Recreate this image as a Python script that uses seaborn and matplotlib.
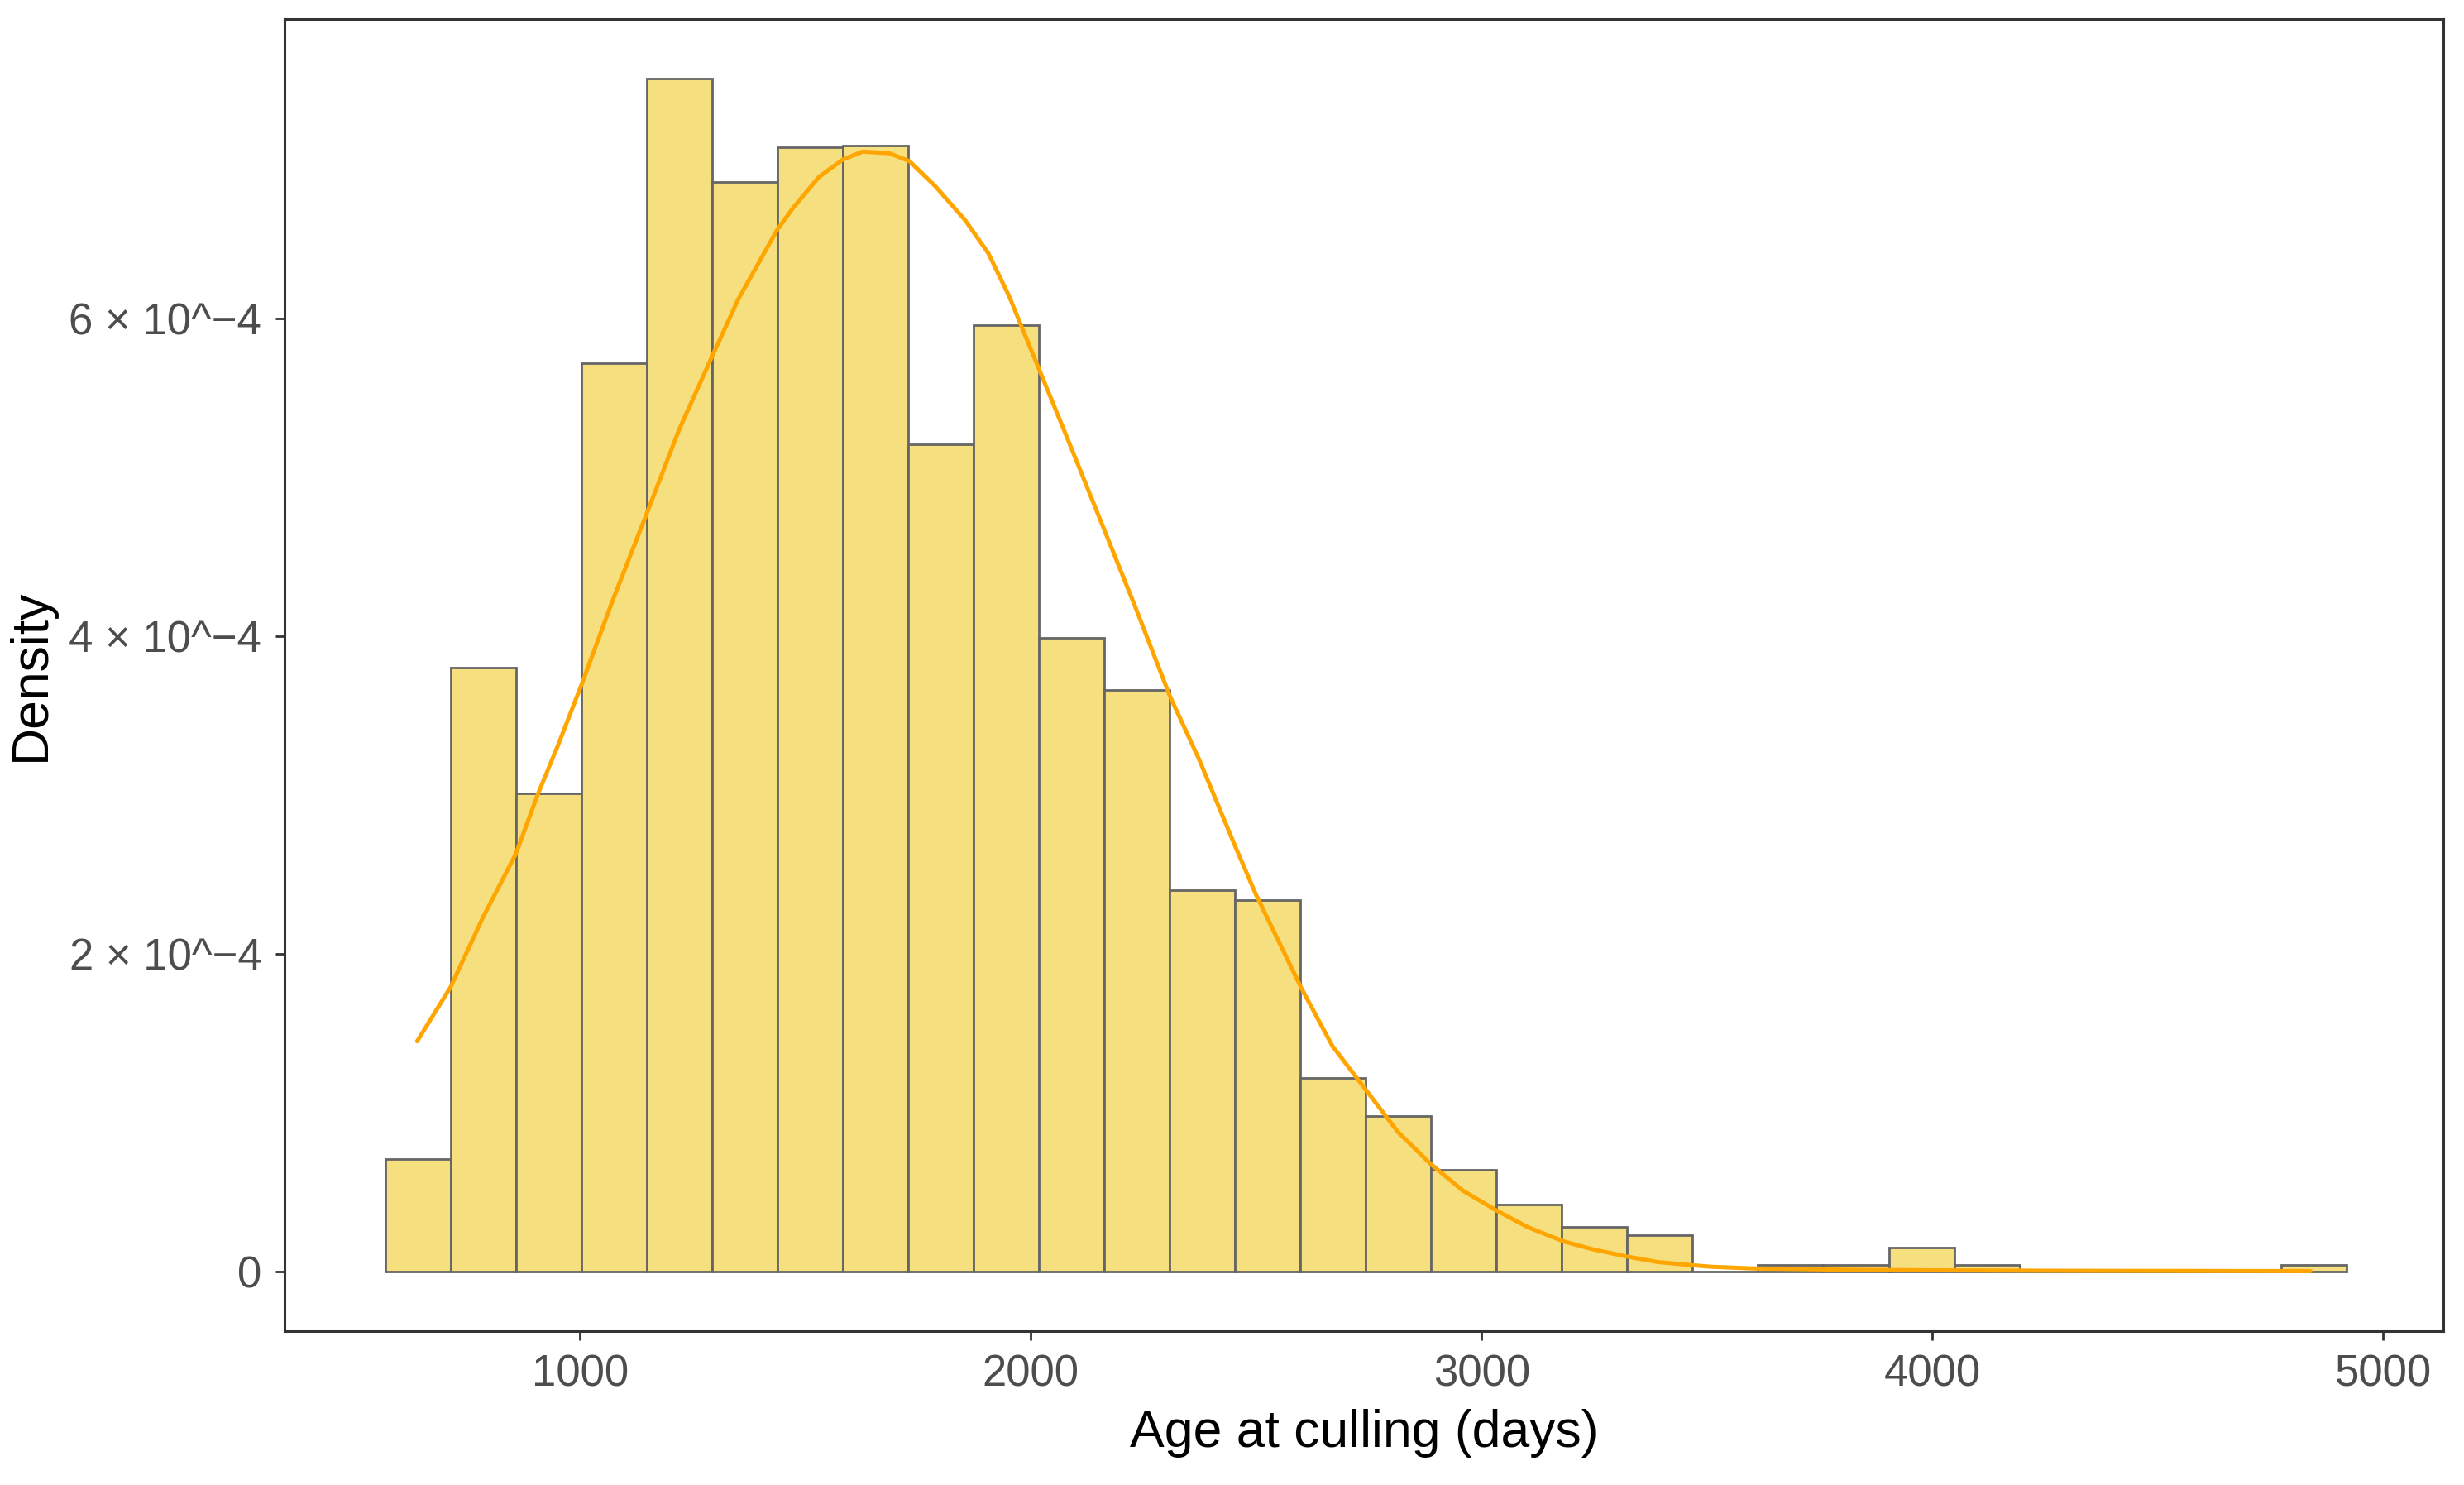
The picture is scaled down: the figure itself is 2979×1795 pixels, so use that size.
import numpy as np
import pandas as pd
import matplotlib
matplotlib.use("Agg")
import matplotlib.pyplot as plt
import seaborn as sns

# histogram: 30 bins starting at 568 days, each 145 days wide
bin_left = 568
bin_width = 145
# bar heights, in units of 1e-4
density = [0.71, 3.80, 3.01, 5.72, 7.51, 6.86, 7.08, 7.09, 5.21, 5.96,
           3.99, 3.66, 2.40, 2.34, 1.22, 0.98, 0.64, 0.42, 0.28, 0.23,
           0.00, 0.04, 0.04, 0.15, 0.04, 0.00, 0.00, 0.00, 0.00, 0.04]

# orange density curve, read point by point (density in units of 1e-4)
curve_days = [639, 713, 785, 858, 906, 951, 1003, 1072, 1148, 1220,
              1293, 1351, 1438, 1474, 1530, 1583, 1627, 1686, 1731, 1789,
              1854, 1906, 1952, 2017, 2082, 2163, 2231, 2309, 2374, 2453,
              2500, 2601, 2669, 2747, 2814, 2886, 2958, 3036, 3102, 3182,
              3247, 3322, 3391, 3467, 3512, 3600, 3800, 4000, 4300, 4600,
              4838]
curve_density = [1.45, 1.79, 2.23, 2.63, 3.00, 3.31, 3.69, 4.22, 4.77, 5.30,
                 5.76, 6.12, 6.56, 6.70, 6.89, 7.00, 7.05, 7.04, 6.99, 6.83,
                 6.62, 6.41, 6.14, 5.69, 5.24, 4.67, 4.19, 3.62, 3.22, 2.68,
                 2.37, 1.78, 1.42, 1.13, 0.88, 0.68, 0.51, 0.38, 0.28, 0.19,
                 0.14, 0.095, 0.06, 0.04, 0.03, 0.02, 0.012, 0.008, 0.005, 0.004,
                 0.003]

x_ticks = [1000, 2000, 3000, 4000, 5000]
y_ticks = [0, 2, 4, 6]
y_tick_labels = ["0", "2 \u00d7 10^\u22124", "4 \u00d7 10^\u22124", "6 \u00d7 10^\u22124"]

sns.set_theme(style="white")
plt.rcParams["font.family"] = ["Liberation Sans", "DejaVu Sans"]

fig, ax = plt.subplots(figsize=(2979 / 200, 1795 / 200), dpi=200)
fig.subplots_adjust(left=0.1155, right=0.9916, top=0.9872, bottom=0.1036)

edges = [bin_left + bin_width * i for i in range(len(density) + 1)]
centers = [e + bin_width / 2 for e in edges[:-1]]
hist_df = pd.DataFrame({"age": centers, "w": [d * 1e-4 for d in density]})

sns.histplot(data=hist_df, x="age", weights="w", bins=edges, stat="count",
             color="#F5DF7E", alpha=1, edgecolor="#666666", linewidth=1.0, ax=ax)

curve_df = pd.DataFrame({"age": curve_days, "dens": [d * 1e-4 for d in curve_density]})
sns.lineplot(data=curve_df, x="age", y="dens", color="#FFA500", linewidth=1.8, ax=ax)

ax.set_xlim(345, 5133)
ax.set_ylim(-0.375e-4, 7.885e-4)
ax.set_xticks(x_ticks)
ax.set_yticks([v * 1e-4 for v in y_ticks])
ax.set_yticklabels(y_tick_labels)

for side in ["left", "right", "top", "bottom"]:
    ax.spines[side].set_visible(True)
    ax.spines[side].set_color("#333333")
    ax.spines[side].set_linewidth(1.1)

ax.tick_params(axis="both", which="major", direction="out", length=4, width=1.0,
               color="#333333", labelcolor="#4D4D4D", labelsize=19, pad=6,
               bottom=True, left=True)

ax.set_xlabel("Age at culling (days)", fontsize=22.5, color="black", labelpad=6)
ax.set_ylabel("Density", fontsize=22.5, color="black", labelpad=6)

plt.savefig("out.png", dpi=200)
plt.close()
